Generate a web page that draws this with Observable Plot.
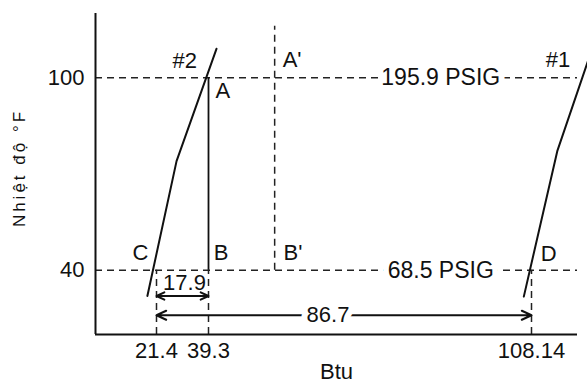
<!DOCTYPE html>
<html><head><meta charset="utf-8">
<script src="https://cdn.jsdelivr.net/npm/d3@7"></script>
<script src="https://cdn.jsdelivr.net/npm/@observablehq/plot@0.6"></script>
<style>
body{margin:0;background:#fff;}
</style>
</head><body><div id="chart"></div>
<script>
// ---- data ----
const btuTicks = [21.4, 39.3, 108.14];
const tempTicks = [40, 100];
const pressureLabels = ["195.9 PSIG", "68.5 PSIG"];
const pressureTemps = [100, 40];
const pressureLabelBtu = 88.8;
// saturation curves (Btu, °F)
const curve2Btu = [41.0, 28.3, 18.2];
const curve2Temp = [109, 74, 32];
const curve1Btu = [120.5, 113.7, 106.5];
const curve1Temp = [106.3, 77.3, 31.8];
// point labels
const pointNames = ["#2", "A", "A'", "#1", "C", "B", "B'", "D"];
const pointBtu = [26.9, 40.8, 55.1, 111.2, 13.0, 40.4, 55.3, 110.1];
const pointTemp = [105.2, 95.8, 105.4, 105.5, 45.5, 45.5, 45.5, 45.2];
// A'B' line
const primeBtu = 53.4;
const primeTop = 116;
// differences
const diffLabels = ["17.9", "86.7"];
const diffFrom = [21.4, 21.4];
const diffTo = [39.3, 108.14];
const diffTemp = [32, 26];
const diffLabelTemp = [36, 26];

// ---- tables ----
const curve2 = curve2Btu.map((b, i) => ({b, t: curve2Temp[i]}));
const curve1 = curve1Btu.map((b, i) => ({b, t: curve1Temp[i]}));
const points = pointNames.map((n, i) => ({n, b: pointBtu[i], t: pointTemp[i]}));
const pressures = pressureLabels.map((n, i) => ({n, t: pressureTemps[i]}));
const arrows = [];
diffLabels.forEach((n, i) => {
  const mid = (diffFrom[i] + diffTo[i]) / 2;
  arrows.push({x1: mid, x2: diffFrom[i], y: diffTemp[i]});
  arrows.push({x1: mid, x2: diffTo[i], y: diffTemp[i]});
});
const diffs = diffLabels.map((n, i) => ({n, b: (diffFrom[i] + diffTo[i]) / 2, t: diffLabelTemp[i]}));

const ink = "#111";
const dash = {stroke: "#222", strokeWidth: 1.5, strokeDasharray: "7,5"};
const fs = 22;

const chart = Plot.plot({
  width: 587, height: 385,
  marginLeft: 95, marginRight: 10, marginTop: 13, marginBottom: 51,
  style: {fontFamily: "'Liberation Sans', Arial, Helvetica, sans-serif", fontSize: fs + "px", background: "#fff", color: ink},
  x: {type: "linear", domain: [0, 21.4, 39.3, 108.14, 118], range: [95, 156, 208, 531, 577]},
  y: {domain: [20, 120]},
  marks: [
    Plot.axisX(btuTicks, {tickSize: 0, tickPadding: 8, tickFormat: d => String(d), fontSize: fs, label: null}),
    Plot.axisY(tempTicks, {tickSize: 0, tickPadding: 11, fontSize: fs, label: null}),
    Plot.ruleY(pressureTemps, dash),
    Plot.ruleX([primeBtu], {y1: 40, y2: primeTop, ...dash}),
    Plot.ruleX(btuTicks, {y1: 20, y2: 40, ...dash}),
    Plot.ruleX([39.3], {y1: 40, y2: 100, stroke: ink, strokeWidth: 1.8}),
    Plot.ruleX([0], {stroke: ink, strokeWidth: 2}),
    Plot.ruleY([20], {stroke: ink, strokeWidth: 2}),
    Plot.line(curve2, {x: "b", y: "t", stroke: ink, strokeWidth: 2}),
    Plot.line(curve1, {x: "b", y: "t", stroke: ink, strokeWidth: 2}),
    Plot.arrow(arrows, {x1: "x1", x2: "x2", y1: "y", y2: "y", stroke: ink, strokeWidth: 2, headLength: 8, headAngle: 50}),
    Plot.text(pressures, {x: () => pressureLabelBtu, y: "t", text: "n", fill: ink, stroke: "white", strokeWidth: 12, fontSize: 23}),
    Plot.text(diffs.filter(d => d.n === "86.7"), {x: "b", y: "t", text: "n", fill: ink, stroke: "white", strokeWidth: 12, fontSize: fs}),
    Plot.text(diffs.filter(d => d.n === "17.9"), {x: "b", y: "t", text: "n", dx: 2, fill: ink, fontSize: fs}),
    Plot.text(points, {x: "b", y: "t", text: "n", textAnchor: "start", fill: ink, fontSize: fs}),
    Plot.text(["Nhiệt độ °F"], {text: d => d, frameAnchor: "left", textAnchor: "middle", dx: -76, dy: -6, rotate: -90, fontSize: 17, fill: ink}),
    Plot.text(["Btu"], {text: d => d, frameAnchor: "bottom", dy: 44, fontSize: fs, fill: ink})
  ]
});
d3.select(chart).selectAll("text").filter(function() { return this.textContent.startsWith("Nhiệt"); }).attr("letter-spacing", "3px");
document.getElementById("chart").append(chart);
</script>
</body></html>
